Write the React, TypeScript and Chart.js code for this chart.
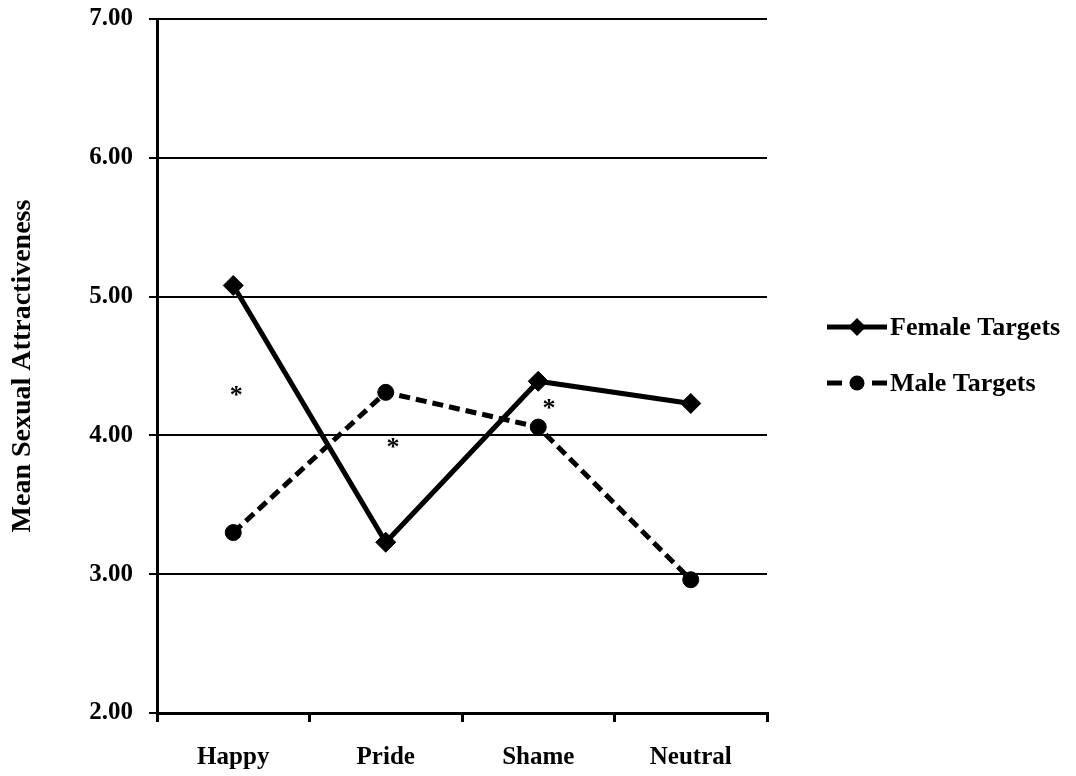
import React, { useEffect, useRef } from 'react';
import { Chart, registerables } from 'chart.js';

Chart.register(...registerables);

const categories = ['Happy', 'Pride', 'Shame', 'Neutral'];
const femaleTargets = [5.08, 3.23, 4.39, 4.23];
const maleTargets = [3.3, 4.31, 4.06, 2.96];
const seriesNames = ['Female Targets', 'Male Targets'];
const yTicks = [2, 3, 4, 5, 6, 7];
const yTitle = 'Mean Sexual Attractiveness';
// significance markers: category position (fractional index) and value
const asteriskX = [0.02, 1.048, 2.07];
const asteriskY = [4.33, 3.95, 4.23];

const FONT = '"Liberation Serif", "Times New Roman", serif';

const asteriskPlugin = {
  id: 'asterisks',
  afterDatasetsDraw(chart: any) {
    const { ctx, scales } = chart;
    ctx.save();
    ctx.fillStyle = '#000';
    ctx.font = `bold 26px ${FONT}`;
    ctx.textAlign = 'center';
    ctx.textBaseline = 'alphabetic';
    asteriskX.forEach((xv, i) => {
      const x = scales.x.getPixelForValue(xv);
      const y = scales.y.getPixelForValue(asteriskY[i]);
      ctx.fillText('*', x, y + 13);
    });
    ctx.restore();
  },
};

const legendPlugin = {
  id: 'customLegend',
  afterDraw(chart: any) {
    const { ctx, chartArea } = chart;
    const x0 = chartArea.right + 60;
    const x1 = x0 + 60;
    const mx = (x0 + x1) / 2;
    const rows = [327, 383];
    ctx.save();
    chart.data.datasets.forEach((ds: any, i: number) => {
      const y = rows[i];
      ctx.strokeStyle = '#000';
      ctx.fillStyle = '#000';
      ctx.lineWidth = 5;
      ctx.setLineDash(ds.borderDash && ds.borderDash.length ? [15, 30] : []);
      ctx.beginPath();
      ctx.moveTo(x0, y);
      ctx.lineTo(x1, y);
      ctx.stroke();
      ctx.setLineDash([]);
      ctx.beginPath();
      if (ds.pointStyle === 'rectRot') {
        const r = 9;
        ctx.moveTo(mx, y - r);
        ctx.lineTo(mx + r, y);
        ctx.lineTo(mx, y + r);
        ctx.lineTo(mx - r, y);
        ctx.closePath();
      } else {
        ctx.arc(mx, y, 7.5, 0, Math.PI * 2);
      }
      ctx.fill();
      ctx.font = `bold 26px ${FONT}`;
      ctx.textAlign = 'left';
      ctx.textBaseline = 'middle';
      ctx.fillText(ds.label, x1 + 3, y + 1);
    });
    ctx.restore();
  },
};

export default function App() {
  const ref = useRef<HTMLCanvasElement | null>(null);

  useEffect(() => {
    if (!ref.current) return;
    const chart = new Chart(ref.current, {
      type: 'line',
      data: {
        labels: categories,
        datasets: [
          {
            label: seriesNames[0],
            data: femaleTargets,
            borderColor: '#000',
            backgroundColor: '#000',
            borderWidth: 5,
            pointStyle: 'rectRot',
            pointRadius: 10,
            pointBorderWidth: 1,
            pointBackgroundColor: '#000',
            pointBorderColor: '#000',
            tension: 0,
          },
          {
            label: seriesNames[1],
            data: maleTargets,
            borderColor: '#000',
            backgroundColor: '#000',
            borderWidth: 5,
            borderDash: [11, 6],
            pointStyle: 'circle',
            pointRadius: 8,
            pointBorderWidth: 1,
            pointBackgroundColor: '#000',
            pointBorderColor: '#000',
            tension: 0,
          },
        ],
      },
      options: {
        responsive: false,
        animation: false,
        layout: { padding: { top: 19, right: 309, left: 0, bottom: 0 } },
        plugins: {
          legend: { display: false },
          tooltip: { enabled: false },
        },
        font: { family: FONT },
        scales: {
          x: {
            type: 'category',
            offset: true,
            grid: {
              display: true,
              offset: true,
              drawOnChartArea: false,
              drawTicks: true,
              tickLength: 9,
              tickWidth: 3,
              lineWidth: 3,
              color: '#000',
            },
            border: { display: true, color: '#000', width: 3 },
            ticks: {
              color: '#000',
              padding: 21,
              font: { family: FONT, size: 25, weight: 'bold' },
            },
            afterFit(scale: any) {
              scale.height = 63;
              scale.paddingLeft = 0;
              scale.paddingRight = 0;
            },
          },
          y: {
            min: 2,
            max: 7,
            afterBuildTicks(scale: any) {
              scale.ticks = yTicks.map((v) => ({ value: v }));
            },
            grid: {
              display: true,
              drawTicks: true,
              tickLength: 8,
              lineWidth: 2,
              tickWidth: 2,
              color: '#000',
            },
            border: { display: true, color: '#000', width: 3 },
            ticks: {
              color: '#000',
              padding: 16,
              font: { family: FONT, size: 25, weight: 'bold' },
              callback: (v: any) => Number(v).toFixed(2),
            },
            title: {
              display: true,
              text: yTitle,
              color: '#000',
              padding: { top: 6, bottom: 0 },
              font: { family: FONT, size: 28, weight: 'bold' },
            },
            afterFit(scale: any) {
              scale.width = 157;
              scale.paddingTop = 0;
              scale.paddingBottom = 0;
            },
          },
        },
      } as any,
      plugins: [asteriskPlugin, legendPlugin],
    });
    return () => chart.destroy();
  }, []);

  return (
    <canvas
      ref={ref}
      width={1076}
      height={776}
      style={{ position: 'fixed', left: 0, top: 0, width: 1076, height: 776, display: 'block' }}
    />
  );
}
